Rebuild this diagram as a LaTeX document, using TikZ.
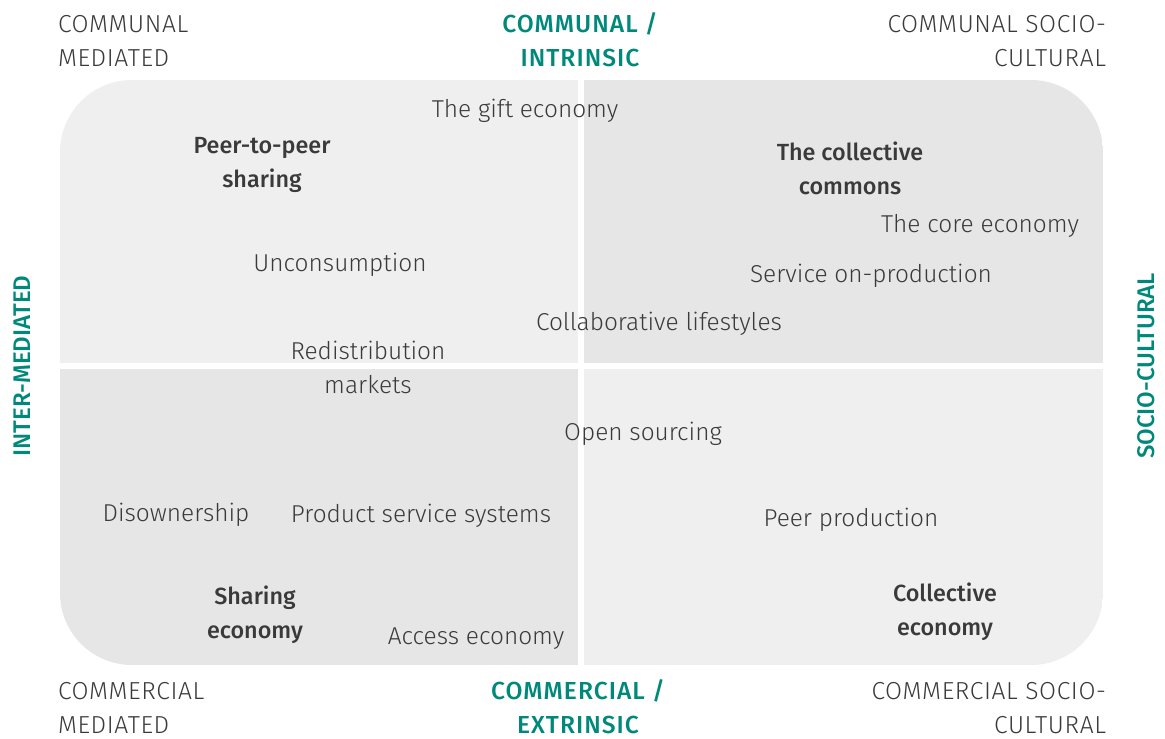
\documentclass[tikz,border=0pt]{standalone}
\usepackage{fontspec}
\setmainfont{Fira Sans}[UprightFont={* Light}, BoldFont={* Medium}]
\usepackage{tikz}

\definecolor{teal}{HTML}{00897A}
\definecolor{txt}{HTML}{3A3A3A}
\definecolor{lightq}{HTML}{EFEFEF}
\definecolor{darkq}{HTML}{E6E6E6}

\begin{document}
\begin{tikzpicture}[x=0.02cm, y=-0.02cm,
  every node/.style={font=\fontsize{13.9}{19.4}\selectfont, text=txt, inner sep=0pt, outer sep=0pt},
  corner/.style={align=left, anchor=west, font=\fontsize{14}{19.4}\selectfont\addfontfeatures{LetterSpace=2.5}},
  cornerr/.style={corner, align=right, anchor=east},
  axis/.style={text=teal, font=\fontsize{14}{19.4}\selectfont\bfseries\addfontfeatures{LetterSpace=4.2}, align=center},
  sideaxis/.style={text=teal, font=\fontsize{13.7}{19.4}\selectfont\bfseries, rotate=90},
  item/.style={align=center},
  heading/.style={align=center, font=\fontsize{13.3}{19.4}\selectfont\bfseries}]
\useasboundingbox (0,0) rectangle (1165,738);

% quadrants
\begin{scope}
\clip[rounded corners=72*0.02cm] (60,80) rectangle (1103,665);
\fill[lightq] (60,80) rectangle (581,366);
\fill[darkq] (581,80) rectangle (1103,366);
\fill[darkq] (60,366) rectangle (581,665);
\fill[lightq] (581,366) rectangle (1103,665);
\end{scope}
\draw[white, line width=6*0.02cm] (581,80) -- (581,665);
\draw[white, line width=6*0.02cm] (60,366) -- (1103,366);

% corner labels
\node[corner] (cm) at (58,41) {COMMUNAL\\MEDIATED};
\node[axis] (ci) at (580,40) {COMMUNAL /\\INTRINSIC};
\node[cornerr] (cs) at (1106,41) {COMMUNAL SOCIO-\\CULTURAL};
\node[corner] (km) at (58,708) {COMMERCIAL\\MEDIATED};
\node[axis] (ke) at (578,707) {COMMERCIAL /\\EXTRINSIC};
\node[cornerr] (ks) at (1106,708) {COMMERCIAL SOCIO-\\CULTURAL};
\node[sideaxis] (im) at (22,366) {INTER-MEDIATED};
\node[sideaxis] (sc) at (1146,366) {SOCIO-CULTURAL};

% top left
\node[item] (gift) at (525,111) {The gift economy};
\node[heading] (p2p) at (262,165) {Peer-to-peer\\sharing};
\node[item] (uncons) at (340,265) {Unconsumption};
\node[item] (redis) at (368,367) {Redistribution\\markets};

% top right
\node[heading] (commons) at (850,168) {The collective\\commons};
\node[item] (core) at (980,226) {The core economy};
\node[item] (service) at (871,276) {Service on-production};
\node[item] (collab) at (659,324) {Collaborative lifestyles};

% bottom left
\node[item] (open) at (643,434) {Open sourcing};
\node[item] (disown) at (176,515) {Disownership};
\node[item] (pss) at (421,516) {Product service systems};
\node[heading] (sharing) at (255,615) {Sharing\\economy};
\node[item] (access) at (476,639) {Access economy};

% bottom right
\node[item] (peer) at (851,520) {Peer production};
\node[heading] (colleco) at (945,612) {Collective\\economy};
\end{tikzpicture}
\end{document}
